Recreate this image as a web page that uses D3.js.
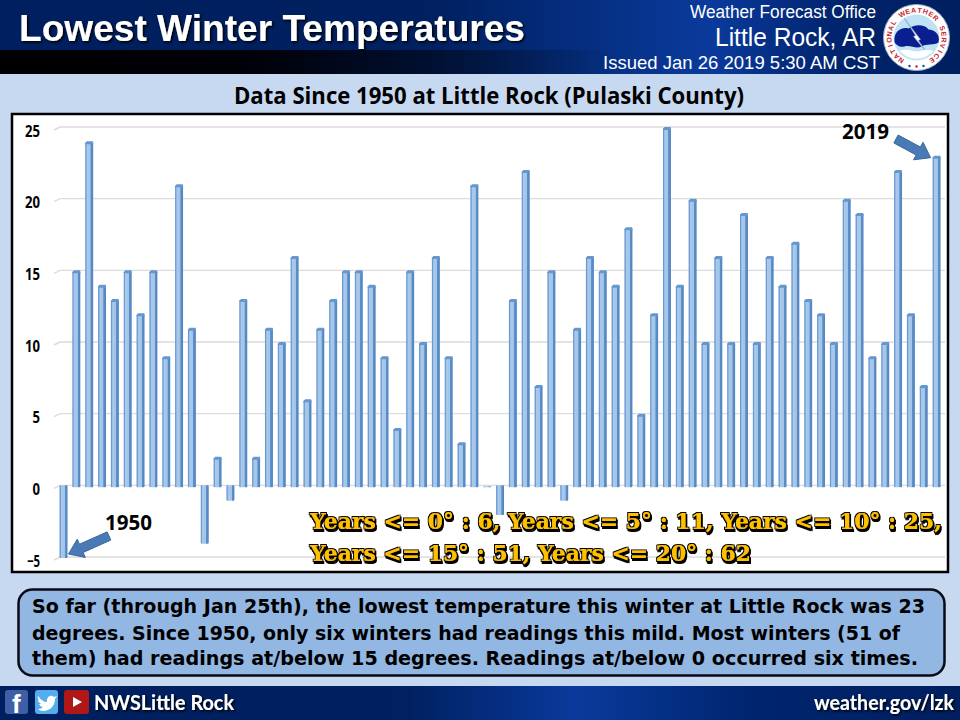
<!DOCTYPE html>
<html><head><meta charset="utf-8">
<script src="https://cdn.jsdelivr.net/npm/d3@7/dist/d3.min.js"></script>
<style>html,body{margin:0;padding:0;background:#c6d9f1}svg{display:block}</style>
</head><body><div id="chart"></div>
<script>
const lowestTemps = [-5,15,24,14,13,15,12,15,9,21,11,-4,2,-1,13,2,11,10,16,6,11,13,15,15,14,9,4,15,10,16,9,3,21,0,-2,13,22,7,15,-1,11,16,15,14,18,5,12,25,14,20,10,16,10,19,10,16,14,17,13,12,10,20,19,9,10,22,12,7,23];
const yTicks = [-5,0,5,10,15,20,25];
const firstLabel = "1950";
const lastLabel = "2019";
const titleText = "Lowest Winter Temperatures";
const subtitleText = "Data Since 1950 at Little Rock (Pulaski County)";
const statLines = ["Years <= 0° : 6, Years <= 5° : 11, Years <= 10° : 25,","Years <= 15° : 51, Years <= 20° : 62"];
const bodyLines = ["So far (through Jan 25th), the lowest temperature this winter at Little Rock was 23","degrees. Since 1950, only six winters had readings this mild. Most winters (51 of","them) had readings at/below 15 degrees. Readings at/below 0 occurred six times."];
const sealText = "NATIONAL WEATHER SERVICE";

const svg = d3.select("#chart").append("svg").attr("width",960).attr("height",720).attr("viewBox","0 0 960 720");
const defs = svg.append("defs");
function grad(id,stops,x2=1,y2=0){const g=defs.append("linearGradient").attr("id",id).attr("x1",0).attr("y1",0).attr("x2",x2).attr("y2",y2);
  stops.forEach(s=>g.append("stop").attr("offset",s[0]).attr("stop-color",s[1]).attr("stop-opacity",s[2]===undefined?1:s[2]));}
grad("band",[[0,"#001f5f"],[0.45,"#00205f"],[0.74,"#0a3a9c"],[0.88,"#00236b"],[1,"#001f5f"]]);
grad("black",[[0,"#000000"],[0.4,"#000008"],[1,"#000000",0]]);
grad("bar",[[0,"#5f92cc"],[0.12,"#6f9fd6"],[0.22,"#aac9eb"],[0.64,"#a3c4e8"],[0.7,"#5c90ca"],[1,"#4f84bd"]]);
grad("foot",[[0,"#001f5f"],[0.42,"#00205f"],[0.6,"#0a3a9c"],[0.78,"#00256f"],[1,"#001f5f"]]);
const sh=defs.append("filter").attr("id","shadow").attr("x","-5%").attr("y","-20%").attr("width","110%").attr("height","150%");
sh.append("feDropShadow").attr("dx",1.5).attr("dy",1.5).attr("stdDeviation",0.8).attr("flood-color","#000").attr("flood-opacity",1);
// fattened gold lettering with a black outline and offset shadow
const gs=defs.append("filter").attr("id","goldShadow").attr("x","-3%").attr("y","-25%").attr("width","106%").attr("height","160%");
gs.append("feMorphology").attr("in","SourceGraphic").attr("operator","dilate").attr("radius",0.45).attr("result","fat");
gs.append("feMorphology").attr("in","SourceAlpha").attr("operator","dilate").attr("radius",1.3).attr("result","out");
gs.append("feOffset").attr("in","out").attr("dx",1.4).attr("dy",1.6).attr("result","off");
gs.append("feFlood").attr("flood-color","#000").attr("result","blk");
gs.append("feComposite").attr("in","blk").attr("in2","off").attr("operator","in").attr("result","shadowA");
gs.append("feComposite").attr("in","blk").attr("in2","out").attr("operator","in").attr("result","outline");
const mg=gs.append("feMerge");
["shadowA","outline","fat"].forEach(k=>mg.append("feMergeNode").attr("in",k));

svg.append("rect").attr("width",960).attr("height",720).attr("fill","#c6d9f1");
// header
svg.append("rect").attr("width",960).attr("height",74).attr("fill","url(#band)");
svg.append("rect").attr("y",50).attr("width",620).attr("height",24).attr("fill","url(#black)");
function label(sel,o){return sel.append("text").attr("x",o.x).attr("y",o.y).attr("font-family",o.f||"Liberation Sans").attr("font-size",o.s).attr("font-weight",o.w||"normal").attr("fill",o.c||"#fff").attr("text-anchor",o.a||"start").attr("textLength",o.l||null).attr("lengthAdjust",o.l?"spacingAndGlyphs":null).attr("filter",o.sh?"url(#shadow)":null).text(o.t);}
label(svg,{x:19,y:40.5,s:36,w:"bold",t:titleText,l:506,sh:1});
label(svg,{x:690,y:17.5,s:18,t:"Weather Forecast Office",l:186,f:"Liberation Sans"});
label(svg,{x:715,y:46,s:26,t:"Little Rock, AR",l:161,f:"Liberation Sans"});
label(svg,{x:603,y:68.5,s:19,t:"Issued Jan 26 2019 5:30 AM CST",l:277,f:"Liberation Sans"});

// logo
const logo=svg.append("g").attr("transform","translate(916.5,37.5)");
logo.append("circle").attr("r",33).attr("fill","#fff").attr("stroke","#9fb0c8").attr("stroke-width",1);
const sealAngle=d3.scaleLinear().domain([0,sealText.length-1]).range([-146,146]);
logo.selectAll("text.seal").data(sealText.split("")).join("text").attr("class","seal")
  .attr("transform",(c,i)=>`rotate(${sealAngle(i)}) translate(0,-25)`)
  .attr("text-anchor","middle").attr("font-family","Liberation Sans").attr("font-weight","bold").attr("font-size",7).attr("fill","#c8202c").text(c=>c);
logo.append("circle").attr("r",23).attr("fill","#bfe3f5");
logo.append("path").attr("d","M-22,4 C-23,-6 -15,-11 -8,-9 C-3,-13 8,-14 12,-8 C18,-8 24,-3 22,5 C17,8 10,6 5,9 C-1,12 -6,7 -12,9 C-16,10 -21,8 -22,4Z").attr("fill","#0a1f8f");
logo.append("path").attr("d","M-12,-19 L-1,-2 L-3,-1 L11,16 L2,3 L4,2 Z").attr("fill","#fff").attr("stroke","#6f8fc8").attr("stroke-width",0.6);
logo.append("path").attr("d","M-17,13 C-8,10 -2,16 6,13 C10,12 14,13 17,13 C8,24 -8,24 -17,13Z").attr("fill","#fff");
[-7,0,7].forEach((d,i)=>logo.append("circle").attr("cx",d).attr("cy",i===1?29:28.5).attr("r",1.2).attr("fill",i===1?"#c8202c":"#2a3f9f"));

label(svg,{x:489,y:104,s:24,w:"bold",c:"#000",a:"middle",t:subtitleText,l:510,f:"Open Sans"});

// chart frame
svg.append("rect").attr("x",12).attr("y",114).attr("width",936).attr("height",458).attr("fill","#fff").attr("stroke","#000").attr("stroke-width",2.5);

const x=d3.scaleBand().domain(d3.range(lowestTemps.length)).range([57.1,943]).paddingInner(0.38).paddingOuter(0.19);
const y=d3.scaleLinear().domain([-5,25]).range([557,127]);
// grid
const g=svg.append("g");
g.selectAll("path.grid").data(yTicks).join("path").attr("class","grid").attr("d",d=>d3.line()([[54,y(d)+3],[60,y(d)],[945,y(d)]])).attr("fill","none").attr("stroke","#dcdcdc").attr("stroke-width",1.4);
const axis=d3.axisLeft(y).tickValues(yTicks).tickSize(0).tickPadding(0);
const ag=svg.append("g").attr("transform","translate(40,4)").call(axis);
ag.select(".domain").remove();
ag.selectAll("text").attr("font-family","Open Sans").attr("font-weight","bold").attr("font-size",16).attr("fill","#000")
  .attr("textLength",d=>d===0||d===5?7.5:(d<0?13:15)).attr("lengthAdjust","spacingAndGlyphs");

// bars
const bars=g.selectAll("g.bar").data(lowestTemps).join("g").attr("class","bar");
const barTop=d=>d>=0?y(d)+1:y(0);
const barBot=d=>d>=0?y(0)+2:y(d)+1;
bars.append("rect").attr("x",(d,i)=>x(i)).attr("width",x.bandwidth()).attr("y",d=>barTop(d)).attr("height",d=>barBot(d)-barTop(d)).attr("fill","url(#bar)").attr("rx",0.8);
bars.each(function(d,i){ if(d>0) d3.select(this).append("path").attr("d",`M${x(i)},${y(d)+2.5}L${x(i)+1.5},${y(d)}H${x(i)+x.bandwidth()-0.3}L${x(i)+x.bandwidth()},${y(d)+1.5}V${y(d)+3}H${x(i)}Z`).attr("fill","#6496d0"); });

// arrows
function blockArrow(tx,ty,fx,fy){const a=Math.atan2(ty-fy,tx-fx),L=Math.hypot(tx-fx,ty-fy),h=14,w=4.5,W=10;
  const p=(u,v)=>[fx+u*Math.cos(a)-v*Math.sin(a),fy+u*Math.sin(a)+v*Math.cos(a)];
  return d3.line()([p(0,-w),p(L-h,-w),p(L-h,-W),p(L,0),p(L-h,W),p(L-h,w),p(0,w)])+"Z";}
const n=lowestTemps.length-1;
svg.append("path").attr("d",blockArrow(x(0)+x.bandwidth()+1,y(-5)-3,109,536)).attr("fill","#4a7ab5").attr("stroke","#3a6699");
svg.append("path").attr("d",blockArrow(x(n)-2,y(lowestTemps[n])+2,896,139)).attr("fill","#4a7ab5").attr("stroke","#3a6699");
label(svg,{x:105,y:530,s:21,w:"bold",c:"#000",t:firstLabel,l:47,f:"Open Sans"});
label(svg,{x:842,y:139,s:21,w:"bold",c:"#000",t:lastLabel,l:47,f:"Open Sans"});

// stats
const statX=[632,441], statY=[529,561];
statLines.forEach((t,i)=>{
  svg.append("text").attr("x",310).attr("y",statY[i]).attr("font-family","DejaVu Serif").attr("font-weight","bold").attr("font-size",22).attr("fill","#ffc000").attr("textLength",statX[i]).attr("lengthAdjust","spacingAndGlyphs").attr("filter","url(#goldShadow)").text(t);
});

// text box
svg.append("rect").attr("x",18.5).attr("y",589.5).attr("width",926).attr("height",86).attr("rx",14).attr("fill","#93b7e3").attr("stroke","#0a0a14").attr("stroke-width",2.5);
const bx=[893,868,886], by=[613,640,665];
bodyLines.forEach((t,i)=>label(svg,{x:32,y:by[i],s:19,w:"bold",c:"#000",t,l:bx[i],f:"DejaVu Sans"}));

// footer
svg.append("rect").attr("y",686).attr("width",960).attr("height",34).attr("fill","url(#foot)");
svg.append("rect").attr("x",5).attr("y",690).attr("width",23).attr("height",24).attr("rx",3).attr("fill","#3f5ea6");
label(svg,{x:12,y:713,s:26,w:"bold",t:"f"});
svg.append("rect").attr("x",35).attr("y",690).attr("width",23).attr("height",24).attr("rx",3).attr("fill","#55acee");
svg.append("path").attr("d","M38,696 C41,700 44,702 47,702 C46,697 51,694 54,697 L57,696 L55,699 C55,706 50,711 43,711 C41,711 39,710 38,709 C40,709 42,708 43,707 C41,707 40,706 39,704 L41,704 C39,703 38,701 38,699 L40,700 C38,699 37,697 38,696Z").attr("fill","#fff");
svg.append("rect").attr("x",64).attr("y",690).attr("width",25).attr("height",24).attr("rx",3).attr("fill","#b01818");
svg.append("path").attr("d","M73,697 L82,702 L73,707Z").attr("fill","#fff");
label(svg,{x:94,y:710,s:20,w:"bold",t:"NWSLittle Rock",l:140,f:"Lato",sh:1});
label(svg,{x:814,y:710,s:20,w:"bold",t:"weather.gov/lzk",l:140,f:"Lato",sh:1});
</script></body></html>
